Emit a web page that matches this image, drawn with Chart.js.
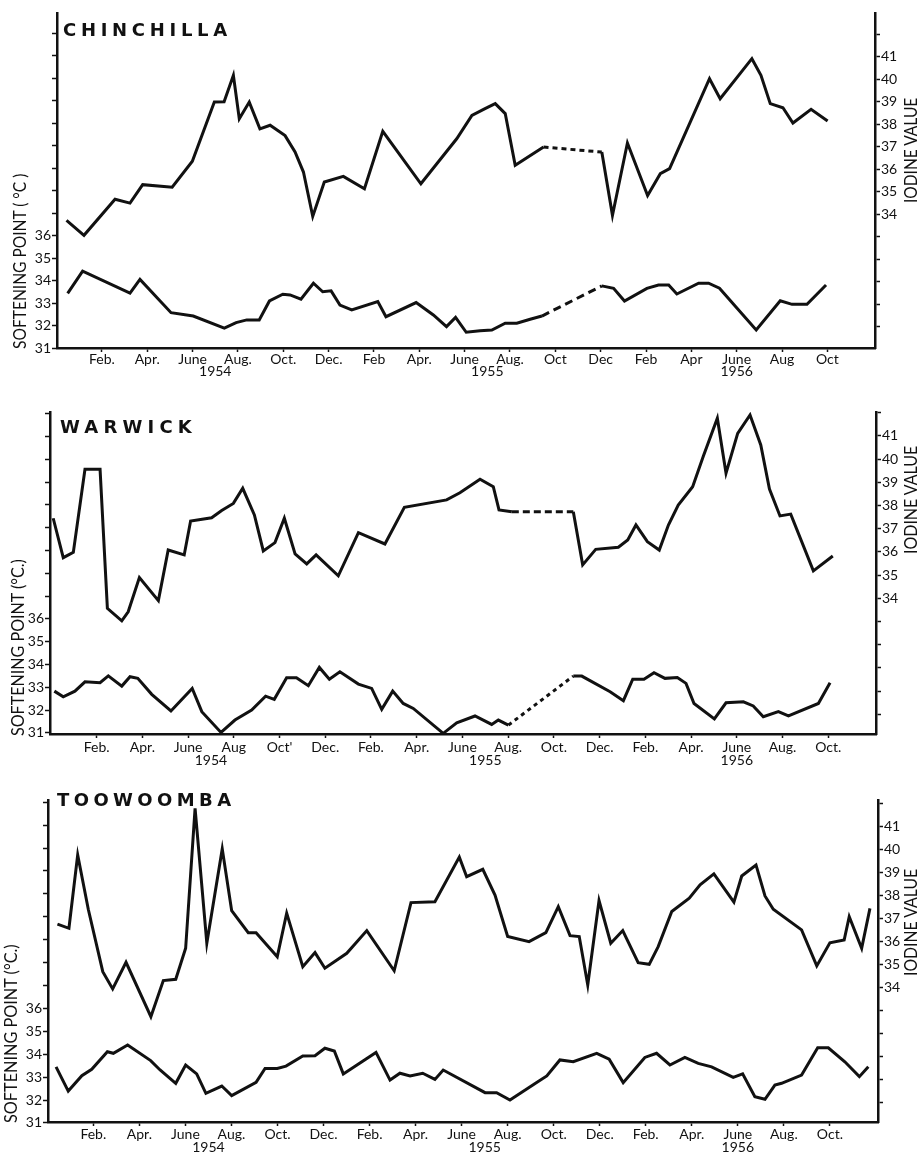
<!DOCTYPE html>
<html>
<head>
<meta charset="utf-8">
<script src="https://cdn.jsdelivr.net/npm/chart.js@4.4.1/dist/chart.umd.min.js"></script>
<style>
  body { margin: 0; background: #fff; color: #111; }
  #page { position: relative; width: 918px; height: 1157px; overflow: hidden; background: #fff; }
  canvas { position: absolute; left: 0; }
  .title { position: absolute; font: bold 18px 'DejaVu Sans', sans-serif; line-height: 18px; white-space: nowrap; }
  .cap { position: absolute; font: 17px Lato, sans-serif; line-height: 16px; white-space: nowrap;
         transform-origin: 0 0; }
</style>
</head>
<body>
<div id="page">
  <canvas id="chin" width="918" height="385" style="top:0px"></canvas>
  <canvas id="warw" width="918" height="385" style="top:385px"></canvas>
  <canvas id="toow" width="918" height="387" style="top:770px"></canvas>

  <div class="title" style="left:63px;top:21px;letter-spacing:4.7px">CHINCHILLA</div>
  <div class="title" style="left:60px;top:418px;letter-spacing:5.2px">WARWICK</div>
  <div class="title" style="left:57px;top:791px;letter-spacing:4.4px">TOOWOOMBA</div>

  <div class="cap" data-len="175" style="left:12px;top:349px">SOFTENING POINT ( °C )</div>
  <div class="cap" data-len="177" style="left:10px;top:736px">SOFTENING POINT (°C.)</div>
  <div class="cap" data-len="179" style="left:3px;top:1123px">SOFTENING POINT (°C.)</div>
  <div class="cap" data-len="105" style="left:903px;top:203px">IODINE VALUE</div>
  <div class="cap" data-len="108" style="left:903px;top:554px">IODINE VALUE</div>
  <div class="cap" data-len="107" style="left:903px;top:976px">IODINE VALUE</div>
</div>

<script>
// months counted from Jan 1954 = 0
const monthTicks = [1, 3, 5, 7, 9, 11, 13, 15, 17, 19, 21, 23, 25, 27, 29, 31, 33];
const yearTicks = [6, 18, 29];
const yearLabels = ['1954', '1955', '1956'];

const chinMonthLabels = ['Feb.', 'Apr.', 'June', 'Aug.', 'Oct.', 'Dec.', 'Feb', 'Apr.', 'June', 'Aug.', 'Oct', 'Dec', 'Feb', 'Apr', 'June', 'Aug', 'Oct'];
const warwMonthLabels = ['Feb.', 'Apr.', 'June', 'Aug', "Oct'", 'Dec.', 'Feb.', 'Apr.', 'June', 'Aug.', 'Oct.', 'Dec.', 'Feb.', 'Apr.', 'June', 'Aug.', 'Oct.'];
const toowMonthLabels = ['Feb.', 'Apr.', 'June', 'Aug.', 'Oct.', 'Dec.', 'Feb.', 'Apr.', 'June', 'Aug.', 'Oct.', 'Dec.', 'Feb.', 'Apr.', 'June', 'Aug.', 'Oct.'];

const softTicks = [31, 32, 33, 34, 35, 36, 37, 38, 39, 40, 41, 42, 43, 44, 45];
const softLabels = [31, 32, 33, 34, 35, 36];
const iodTicks = [29, 30, 31, 32, 33, 34, 35, 36, 37, 38, 39, 40, 41, 42];
const iodLabels = [34, 35, 36, 37, 38, 39, 40, 41];

// CHINCHILLA
const chinIodMonths = [-0.56, 0.21, 1.58, 2.24, 2.8, 4.1, 4.99, 5.96, 6.39, 6.8, 7.06, 7.5, 7.97, 8.42, 9.08, 9.52, 9.89, 10.3, 10.81, 11.65, 12.58, 13.39, 15.07, 16.65, 17.32, 17.9, 18.35, 18.79, 19.23, 20.48, 23.05, 23.52, 24.18, 25.07, 25.63, 26.04, 27.8, 28.27, 29.67, 30.07, 30.48, 31.04, 31.48, 32.28, 33.01];
const chinIod = [33.73, 33.07, 34.67, 34.5, 35.32, 35.21, 36.36, 38.99, 39.0, 40.18, 38.25, 38.99, 37.8, 37.96, 37.5, 36.77, 35.88, 33.91, 35.44, 35.69, 35.14, 37.69, 35.36, 37.36, 38.4, 38.7, 38.92, 38.48, 36.18, 36.99, 36.77, 33.96, 37.17, 34.84, 35.81, 36.03, 40.03, 39.14, 40.92, 40.18, 38.92, 38.74, 38.06, 38.67, 38.15];
const chinSoftMonths = [-0.51, 0.15, 2.24, 2.68, 4.05, 5.03, 6.4, 6.92, 7.39, 7.94, 8.39, 8.98, 9.3, 9.78, 10.33, 10.74, 11.11, 11.5, 12.02, 13.17, 13.53, 14.86, 15.62, 16.2, 16.6, 17.07, 17.68, 18.2, 18.79, 19.3, 19.89, 20.41, 23.05, 23.57, 24.05, 25.04, 25.55, 26.0, 26.36, 27.32, 27.76, 28.24, 29.86, 30.92, 31.44, 32.1, 32.94];
const chinSoft = [33.45, 34.44, 33.46, 34.07, 32.59, 32.44, 31.9, 32.15, 32.27, 32.27, 33.11, 33.41, 33.38, 33.19, 33.9, 33.52, 33.56, 32.93, 32.71, 33.08, 32.41, 33.04, 32.49, 31.97, 32.38, 31.72, 31.79, 31.82, 32.12, 32.12, 32.3, 32.44, 33.78, 33.67, 33.11, 33.67, 33.82, 33.82, 33.42, 33.9, 33.9, 33.68, 31.82, 33.12, 32.96, 32.96, 33.82];

// WARWICK
const warwIodMonths = [-0.9, -0.46, -0.02, 0.49, 1.15, 1.47, 2.1, 2.38, 2.87, 3.7, 4.13, 4.83, 5.11, 6.03, 6.47, 6.98, 7.39, 7.9, 8.29, 8.8, 9.21, 9.68, 10.19, 10.6, 11.57, 12.45, 13.61, 14.46, 16.31, 16.89, 17.77, 18.35, 18.6, 19.16, 21.85, 22.26, 22.83, 23.82, 24.23, 24.59, 25.09, 25.61, 26.01, 26.44, 27.07, 27.54, 28.15, 28.53, 29.04, 29.58, 30.05, 30.43, 30.89, 31.36, 32.35, 33.2];
const warwIod = [37.45, 35.75, 35.98, 39.56, 39.56, 33.57, 33.03, 33.42, 34.89, 33.9, 36.08, 35.87, 37.33, 37.47, 37.78, 38.09, 38.74, 37.59, 36.04, 36.4, 37.45, 35.91, 35.48, 35.87, 34.97, 36.83, 36.34, 37.92, 38.24, 38.55, 39.13, 38.81, 37.81, 37.73, 37.73, 35.44, 36.11, 36.2, 36.51, 37.16, 36.44, 36.08, 37.16, 38.02, 38.81, 40.13, 41.76, 39.39, 41.11, 41.9, 40.61, 38.71, 37.55, 37.63, 35.18, 35.82];
const warwSoftMonths = [-0.85, -0.46, 0.05, 0.49, 1.15, 1.51, 2.1, 2.46, 2.8, 3.41, 4.25, 5.18, 5.6, 6.44, 7.05, 7.78, 8.39, 8.77, 9.31, 9.74, 10.26, 10.74, 11.18, 11.64, 12.45, 13.03, 13.47, 13.95, 14.41, 14.85, 16.16, 16.75, 17.55, 18.28, 18.57, 19.01, 21.85, 22.22, 23.46, 24.04, 24.45, 24.94, 25.38, 25.86, 26.4, 26.78, 27.13, 28.02, 28.53, 29.29, 29.72, 30.16, 30.82, 31.26, 32.57, 33.08];
const warwSoft = [32.83, 32.58, 32.83, 33.24, 33.2, 33.5, 33.05, 33.46, 33.39, 32.69, 31.96, 32.95, 31.93, 31.02, 31.56, 32.0, 32.61, 32.47, 33.42, 33.42, 33.07, 33.87, 33.35, 33.68, 33.14, 32.95, 32.03, 32.83, 32.29, 32.07, 30.98, 31.44, 31.74, 31.37, 31.56, 31.34, 33.49, 33.49, 32.8, 32.41, 33.35, 33.35, 33.64, 33.39, 33.43, 33.17, 32.29, 31.61, 32.32, 32.36, 32.18, 31.71, 31.93, 31.74, 32.29, 33.2];

// TOOWOOMBA
const toowIodMonths = [-0.56, -0.06, 0.32, 0.78, 1.41, 1.84, 2.42, 3.5, 4.04, 4.58, 5.01, 5.42, 5.93, 6.6, 7.01, 7.73, 8.07, 8.99, 9.4, 10.1, 10.63, 11.06, 12.01, 12.88, 14.07, 14.8, 15.84, 16.9, 17.22, 17.92, 18.45, 19.0, 19.93, 20.66, 21.2, 21.71, 22.11, 22.48, 22.97, 23.48, 24.0, 24.67, 25.15, 25.54, 26.13, 26.89, 27.36, 27.96, 28.83, 29.17, 29.79, 30.18, 30.54, 31.77, 32.43, 33.0, 33.62, 33.84, 34.38, 34.74];
const toowIod = [36.75, 36.57, 39.77, 37.4, 34.68, 33.93, 35.09, 32.72, 34.29, 34.35, 35.7, 41.8, 35.92, 40.03, 37.34, 36.38, 36.38, 35.33, 37.23, 34.9, 35.51, 34.83, 35.48, 36.47, 34.72, 37.69, 37.73, 39.67, 38.82, 39.14, 38.02, 36.21, 35.99, 36.38, 37.51, 36.25, 36.21, 34.1, 37.78, 35.92, 36.47, 35.07, 35.0, 35.77, 37.3, 37.88, 38.46, 38.94, 37.71, 38.85, 39.33, 37.98, 37.4, 36.5, 34.93, 35.94, 36.06, 37.08, 35.7, 37.44];
const toowSoftMonths = [-0.62, -0.09, 0.5, 0.93, 1.61, 1.87, 2.49, 3.49, 3.9, 4.58, 5.01, 5.49, 5.89, 6.58, 7.01, 8.07, 8.46, 8.99, 9.37, 10.1, 10.63, 11.06, 11.47, 11.86, 13.28, 13.89, 14.32, 14.76, 15.31, 15.84, 16.2, 18.02, 18.52, 19.1, 20.26, 20.7, 21.27, 21.85, 22.87, 23.41, 24.02, 24.96, 25.47, 26.05, 26.7, 27.28, 27.86, 28.8, 29.21, 29.74, 30.18, 30.61, 30.9, 31.77, 32.47, 32.93, 33.65, 34.28, 34.67];
const toowSoft = [33.45, 32.39, 33.06, 33.34, 34.11, 34.04, 34.4, 33.72, 33.31, 32.73, 33.53, 33.14, 32.29, 32.61, 32.19, 32.77, 33.38, 33.38, 33.48, 33.92, 33.93, 34.26, 34.14, 33.14, 34.08, 32.87, 33.17, 33.05, 33.17, 32.9, 33.31, 32.32, 32.32, 32.0, 32.76, 33.05, 33.75, 33.67, 34.04, 33.78, 32.76, 33.86, 34.04, 33.53, 33.86, 33.6, 33.45, 32.99, 33.14, 32.14, 32.03, 32.65, 32.73, 33.09, 34.28, 34.28, 33.67, 33.02, 33.45];

// a jump of more than this many months means no samples: drawn dashed
const GAP_MONTHS = 2.3;
const INK = '#111';

const toPoints = (xs, ys) => xs.map((x, i) => ({ x: x, y: ys[i] }));

// rotated axis captions, squeezed to the length they have on the original
document.querySelectorAll('.cap').forEach(el => {
  const k = Number(el.dataset.len) / el.offsetWidth;
  el.style.transform = 'rotate(-90deg) scaleX(' + k.toFixed(3) + ')';
});

function drawPanel(cfg) {
  const canvas = document.getElementById(cfg.id);
  const W = canvas.width, H = canvas.height;
  const a = cfg.area;
  const xTicks = monthTicks.concat(yearTicks.filter(v => !monthTicks.includes(v))).sort((p, q) => p - q);

  const lineDs = (pts, axis, dash) => ({
    data: pts,
    yAxisID: axis,
    borderColor: INK,
    borderWidth: 3,
    pointRadius: 0,
    tension: 0,
    fill: false,
    segment: {
      borderDash: ctx => (ctx.p1.parsed.x - ctx.p0.parsed.x > GAP_MONTHS ? dash : undefined)
    }
  });

  new Chart(canvas, {
    type: 'line',
    data: {
      datasets: [
        lineDs(toPoints(cfg.iodMonths, cfg.iod), 'yR', cfg.iodDash),
        lineDs(toPoints(cfg.softMonths, cfg.soft), 'yL', cfg.softDash)
      ]
    },
    options: {
      responsive: false,
      animation: false,
      devicePixelRatio: 1,
      layout: { padding: { top: a.top, left: 0, right: 0, bottom: 0 } },
      plugins: { legend: { display: false }, tooltip: { enabled: false } },
      scales: {
        x: {
          type: 'linear',
          min: cfg.xMin,
          max: cfg.xMax,
          afterFit: s => { s.height = H - a.bottom; },
          afterBuildTicks: s => { s.ticks = xTicks.map(v => ({ value: v })); },
          border: { display: true, color: INK, width: 2.5 },
          grid: {
            drawOnChartArea: false,
            drawTicks: true,
            tickLength: 4,
            tickWidth: 1.5,
            tickColor: ctx => (monthTicks.includes(ctx.tick && ctx.tick.value) ? INK : 'rgba(0,0,0,0)')
          },
          ticks: {
            autoSkip: false,
            maxRotation: 0,
            padding: cfg.xPad,
            color: INK,
            font: { family: 'Lato', size: 14, lineHeight: cfg.xLine },
            callback: v => {
              const m = monthTicks.indexOf(v);
              const y = yearTicks.indexOf(v);
              const month = m >= 0 ? cfg.monthLabels[m] : '';
              return y >= 0 ? [month, yearLabels[y]] : month;
            }
          }
        },
        yL: {
          type: 'linear',
          position: 'left',
          min: cfg.softMin,
          max: cfg.softMax,
          afterFit: s => { s.width = a.left; },
          afterBuildTicks: s => { s.ticks = softTicks.map(v => ({ value: v })); },
          border: { display: true, color: INK, width: 2.5 },
          grid: { drawOnChartArea: false, drawTicks: true, tickLength: 5, tickWidth: 1.5, tickColor: INK },
          ticks: {
            padding: 1,
            color: INK,
            font: { family: 'Lato', size: 14 },
            callback: v => (softLabels.includes(v) ? String(v) : '')
          }
        },
        yR: {
          type: 'linear',
          position: 'right',
          min: cfg.iodMin,
          max: cfg.iodMax,
          afterFit: s => { s.width = W - a.right; },
          afterBuildTicks: s => { s.ticks = iodTicks.map(v => ({ value: v })); },
          border: { display: true, color: INK, width: 2.5 },
          grid: { drawOnChartArea: false, drawTicks: true, tickLength: 5, tickWidth: 1.5, tickColor: INK },
          ticks: {
            padding: 1,
            color: INK,
            font: { family: 'Lato', size: 14 },
            callback: v => (iodLabels.includes(v) ? String(v) : '')
          }
        }
      }
    }
  });
}

drawPanel({
  id: 'chin', area: { left: 57, right: 875, top: 13, bottom: 348 },
  xMin: -0.98, xMax: 35.1, softMin: 31.02, softMax: 45.91, iodMin: 28.06, iodMax: 42.95,
  xPad: 1.5, xLine: 0.86, monthLabels: chinMonthLabels,
  iodMonths: chinIodMonths, iod: chinIod, softMonths: chinSoftMonths, soft: chinSoft,
  iodDash: [5, 4], softDash: [8, 5]
});

drawPanel({
  id: 'warw', area: { left: 50, right: 876, top: 27, bottom: 349 },
  xMin: -1.04, xMax: 35.09, softMin: 30.95, softMax: 45.07, iodMin: 28.15, iodMax: 42.03,
  xPad: 3, xLine: 0.93, monthLabels: warwMonthLabels,
  iodMonths: warwIodMonths, iod: warwIod, softMonths: warwSoftMonths, soft: warwSoft,
  iodDash: [7, 4], softDash: [4, 4]
});

drawPanel({
  id: 'toow', area: { left: 48, right: 878, top: 30, bottom: 352 },
  xMin: -0.97, xMax: 35.09, softMin: 31.04, softMax: 45.1, iodMin: 28.13, iodMax: 42.16,
  xPad: 2, xLine: 0.93, monthLabels: toowMonthLabels,
  iodMonths: toowIodMonths, iod: toowIod, softMonths: toowSoftMonths, soft: toowSoft,
  iodDash: [6, 4], softDash: [6, 4]
});
</script>
</body>
</html>
